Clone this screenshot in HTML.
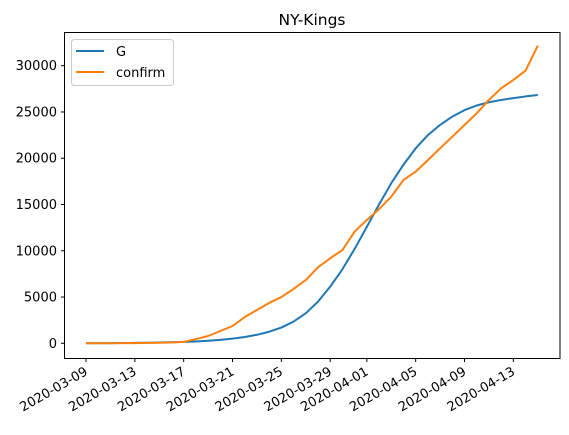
<!DOCTYPE html>
<html><head><meta charset="utf-8"><style>
body{margin:0;background:#fff}
svg text{font-family:"DejaVu Sans","Liberation Sans",sans-serif;font-size:13px;fill:#000}
</style></head><body>
<svg id="chart" width="569" height="430" xmlns="http://www.w3.org/2000/svg">
<rect width="569" height="430" fill="#fff"/>
<text x="312" y="25" text-anchor="middle" style="font-size:15.5px">NY-Kings</text>
<g id="lines"></g>
<g id="axes"></g>
<rect x="64.5" y="32.5" width="495.5" height="326" fill="none" stroke="#000" stroke-width="1"/>
<g>
<rect x="71.5" y="39.5" width="102" height="46" rx="3" fill="#fff" fill-opacity="0.8" stroke="#ccc"/>
<g><line x1="76" y1="51" x2="104" y2="51" stroke="#1f77b4" stroke-width="2"/><text x="116" y="56">G</text></g>
<g><line x1="76" y1="72" x2="104" y2="72" stroke="#ff7f0e" stroke-width="2"/><text x="116" y="77">confirm</text></g>
</g>
</svg>
<script>
const startDate = "2020-03-09";
const gValues = [10,15,20,30,45,60,80,110,150,200,270,370,500,680,920,1250,1700,2350,3240,4500,6120,8000,10200,12600,15000,17300,19300,21070,22500,23600,24500,25200,25700,26050,26300,26500,26680,26830];
const confirmValues = [0,5,10,15,25,40,60,80,150,460,790,1330,1870,2840,3600,4360,5000,5870,6840,8210,9190,10080,12060,13330,14500,15850,17650,18550,19800,21070,22330,23600,24860,26300,27560,28460,29460,32160];
const yTicks = [0,5000,10000,15000,20000,25000,30000];
const xTickDays = [0,4,8,12,16,20,23,27,31,35];
const xTickLabels = ["2020-03-09","2020-03-13","2020-03-17","2020-03-21","2020-03-25","2020-03-29","2020-04-01","2020-04-05","2020-04-09","2020-04-13"];

const NS="http://www.w3.org/2000/svg";
const xs=d=>86+d*12.21;
const ys=v=>343.3-v*0.009253;
const lines=document.getElementById('lines');
const axes=document.getElementById('axes');
function mk(t,a,p){const e=document.createElementNS(NS,t);for(const k in a)e.setAttribute(k,a[k]);p.appendChild(e);return e;}
function series(vals,color,name){
  const d=vals.map((v,i)=>(i?'L':'M')+xs(i).toFixed(2)+','+ys(v).toFixed(2)).join('');
  const p=mk('path',{d:d,fill:'none',stroke:color,'stroke-width':2,'stroke-linejoin':'round'},lines);
  
  
}
series(gValues,'#1f77b4','line-g');
series(confirmValues,'#ff7f0e','line-confirm');
yTicks.forEach(v=>{
  const y=ys(v);
  mk('line',{x1:61,x2:64.5,y1:y,y2:y,stroke:'#000'},axes);
  const t=mk('text',{x:57,y:y+4.5,'text-anchor':'end'},axes);
  t.textContent=v;
  
  
});
xTickDays.forEach((d,i)=>{
  const x=xs(d);
  mk('line',{x1:x,x2:x,y1:358.5,y2:362,stroke:'#000'},axes);
  const t=mk('text',{x:0,y:0,'text-anchor':'end',transform:`translate(${x+2.5},${374}) rotate(-30)`},axes);
  t.textContent=xTickLabels[i];
  
  
});
</script>
</body></html>
